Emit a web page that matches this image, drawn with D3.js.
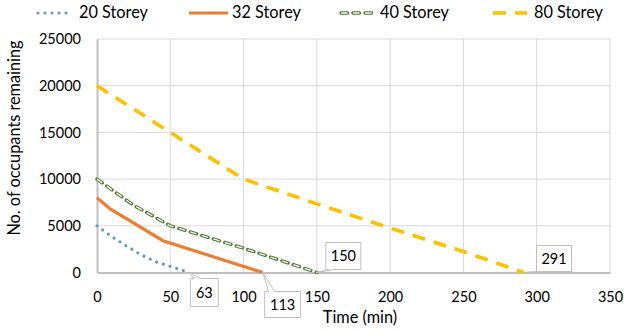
<!DOCTYPE html>
<html>
<head>
<meta charset="utf-8">
<script src="https://cdn.jsdelivr.net/npm/d3@7"></script>
<style>
  body { margin: 0; background: #fff; }
  text { font-family: Lato, "Open Sans", sans-serif; fill: #000; }
</style>
</head>
<body>
<div id="chart"></div>
<script>
// values
var xTicks = [0, 50, 100, 150, 200, 250, 300, 350],
    yTicks = [0, 5000, 10000, 15000, 20000, 25000];

var s20 = [[0, 5000], [10, 3850], [20, 2850], [30, 1900], [40, 1150], [50, 650], [63, 0]],
    s32 = [[0, 8000], [9, 6800], [45, 3400], [113, 0]],
    s40 = [[0, 10000], [25, 7200], [50, 5000], [100, 2600], [150, 0]],
    s80 = [[0, 20000], [50, 15000], [100, 10000], [150, 7350], [200, 4750], [250, 2250], [291, 0]];

var names = ["20 Storey", "32 Storey", "40 Storey", "80 Storey"];
var endLabels = [63, 113, 150, 291];

var W = 624, H = 333;
var numSize = 14.5, wordSize = 16.3;

var svg = d3.select("#chart").append("svg")
    .attr("width", W)
    .attr("height", H);

var x = d3.scaleLinear().domain([0, 350]).range([97, 610]),
    y = d3.scaleLinear().domain([0, 25000]).range([272.5, 39]);

// gridlines
svg.selectAll(".hgrid").data(yTicks.slice(1)).enter().append("line")
    .attr("x1", x(0)).attr("x2", x(350))
    .attr("y1", function(d) { return y(d); }).attr("y2", function(d) { return y(d); })
    .attr("stroke", "#d9d9d9").attr("stroke-width", 1);
svg.selectAll(".vgrid").data(xTicks.slice(1)).enter().append("line")
    .attr("x1", function(d) { return x(d); }).attr("x2", function(d) { return x(d); })
    .attr("y1", y(0)).attr("y2", y(25000))
    .attr("stroke", "#d9d9d9").attr("stroke-width", 1);

// axes
var xAxis = svg.append("g").attr("transform", "translate(0," + y(0) + ")")
    .call(d3.axisBottom(x).tickValues(xTicks).tickSize(0).tickPadding(19));
var yAxis = svg.append("g").attr("transform", "translate(" + x(0) + ",0)")
    .call(d3.axisLeft(y).tickValues(yTicks).tickSize(0).tickPadding(16).tickFormat(d3.format("d")));
[xAxis, yAxis].forEach(function(a) {
  a.select(".domain").attr("stroke", "#bfbfbf").attr("stroke-width", 2);
  a.selectAll("text").attr("font-size", numSize).attr("font-family", "Lato, sans-serif");
});

svg.append("text").attr("x", 360).attr("y", 323).attr("text-anchor", "middle")
    .attr("font-size", wordSize).text("Time (min)");
svg.append("text").attr("transform", "translate(20,138) rotate(-90)")
    .attr("text-anchor", "middle").attr("font-size", wordSize).text("No. of occupants remaining");

var line = d3.line().x(function(d) { return x(d[0]); }).y(function(d) { return y(d[1]); });

function styleBlue(p) {
  p.attr("fill", "none").attr("stroke", "#5b9bd5").attr("stroke-width", 3.2)
   .attr("stroke-linecap", "round").attr("stroke-dasharray", "0,7");
}
function styleOrange(p) {
  p.attr("fill", "none").attr("stroke", "#ed7d31").attr("stroke-width", 3.2);
}
function styleGreenOuter(p) {
  p.attr("fill", "none").attr("stroke", "#4e7a32").attr("stroke-width", 3.4)
   .attr("stroke-linecap", "round").attr("stroke-dasharray", "6.5,5.5");
}
function styleGreenInner(p) {
  p.attr("fill", "none").attr("stroke", "#f4f8f0").attr("stroke-width", 1.4)
   .attr("stroke-linecap", "butt").attr("stroke-dasharray", "6.5,5.5");
}
function styleYellow(p) {
  p.attr("fill", "none").attr("stroke", "#ffc000").attr("stroke-width", 3.6)
   .attr("stroke-dasharray", "13,9");
}

svg.append("path").datum(s80).attr("d", line).call(styleYellow);
svg.append("path").datum(s40).attr("d", line).call(styleGreenOuter);
svg.append("path").datum(s40).attr("d", line).call(styleGreenInner);
svg.append("path").datum(s32).attr("d", line).call(styleOrange);
svg.append("path").datum(s20).attr("d", line).call(styleBlue);

// callouts: [time, box x offset, box y offset, box width, box height]
var callouts = [
  [endLabels[0], 1, 6, 28, 28],
  [endLabels[1], 2, 19, 36, 26],
  [endLabels[2], 9, -30, 35, 27],
  [endLabels[3], 13, -27, 35, 26]
];
callouts.forEach(function(c) {
  var px = x(c[0]), py = y(0),
      bx = px + c[1], by = py + c[2], bw = c[3], bh = c[4];
  var path;
  if (c[2] > 0) {
    // box below point, pointer from top-left
    path = "M" + bx + "," + by + " L" + (bx + 4) + "," + by + " L" + px + "," + py +
           " L" + (bx + 10) + "," + by + " L" + (bx + bw) + "," + by + " L" + (bx + bw) + "," + (by + bh) +
           " L" + bx + "," + (by + bh) + " Z";
  } else {
    // box above-right, pointer from bottom-left
    path = "M" + bx + "," + by + " L" + (bx + bw) + "," + by + " L" + (bx + bw) + "," + (by + bh) +
           " L" + (bx + 8) + "," + (by + bh) + " L" + px + "," + py + " L" + (bx + 3) + "," + (by + bh) +
           " L" + bx + "," + (by + bh) + " Z";
  }
  svg.append("path").attr("d", path).attr("fill", "#fff").attr("stroke", "#bfbfbf").attr("stroke-width", 1);
  svg.append("text").attr("x", bx + bw / 2).attr("y", by + bh / 2 + 5)
     .attr("text-anchor", "middle").attr("font-size", numSize).text(c[0]);
});

// legend
var legend = [
  {x1: 38, x2: 73, tx: 79, style: [styleBlue]},
  {x1: 189, x2: 228, tx: 232, style: [styleOrange]},
  {x1: 341, x2: 376, tx: 380, style: [styleGreenOuter, styleGreenInner]},
  {x1: 493, x2: 527, tx: 534, style: [styleYellow]}
];
legend.forEach(function(l, i) {
  l.style.forEach(function(s) {
    svg.append("path").attr("d", "M" + l.x1 + ",13 L" + l.x2 + ",13").call(s);
  });
  svg.append("text").attr("x", l.tx).attr("y", 18).attr("font-size", wordSize).text(names[i]);
});
</script>
</body>
</html>
